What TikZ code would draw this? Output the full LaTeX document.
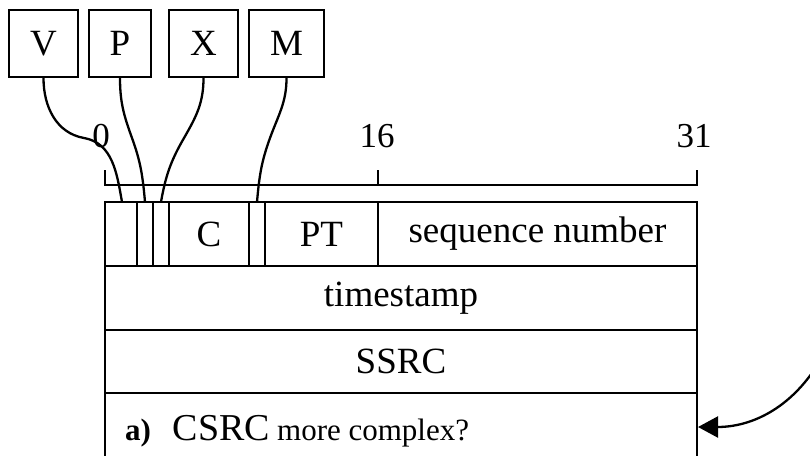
\documentclass[tikz,border=0pt]{standalone}
\usepackage{fontspec}
\setmainfont{Liberation Serif}
\usetikzlibrary{arrows.meta}
\begin{document}
\begin{tikzpicture}[x=1pt,y=-1pt, line width=2.3pt,
  big/.style={font=\fontsize{37}{42}\selectfont},
  flag/.style={draw, big, minimum height=67pt, inner sep=0pt},
  field/.style={draw, big, minimum height=64pt, inner sep=0pt},
  wire/.style={line width=2.3pt},
  scalelbl/.style={font=\fontsize{35}{40}\selectfont, anchor=base, inner sep=0pt}]
\useasboundingbox (0,0) rectangle (810,455);
% flag boxes
\node[flag, minimum width=69pt] (V) at (43.5,43.5) {V};
\node[flag, minimum width=62pt] (P) at (120,43.5) {P};
\node[flag, minimum width=69pt] (X) at (203.5,43.5) {X};
\node[flag, minimum width=75pt] (M) at (286.5,43.5) {M};
% scale
\coordinate (t0) at (105,185);
\coordinate (t16) at (378,185);
\coordinate (t31) at (697,185);
\draw (t0) ++(0,-15) -- (t0) -- (t31) -- ++(0,-15);
\draw (t16) -- ++(0,-15);
\node[scalelbl] (l0) at (101,147) {0};
\node[scalelbl] (l16) at (377,147) {16};
\node[scalelbl] (l31) at (694,147) {31};
% first row
\node[field, minimum width=32pt] (fv) at (121,234) {};
\node[field, minimum width=16pt] (fp) at (145,234) {};
\node[field, minimum width=16pt] (fx) at (161,234) {};
\node[field, minimum width=80pt] (fc) at (209,234) {C};
\node[field, minimum width=16pt] (fm) at (257,234) {};
\node[field, minimum width=113pt] (fpt) at (321.5,234) {PT};
\node[field, minimum width=319pt] (fseq) at (537.5,234) {sequence number};
% other rows
\node[field, minimum width=592pt] (ts) at (401,298) {timestamp};
\node[field, minimum width=592pt, minimum height=63pt] (ssrc) at (401,361.5) {SSRC};
\node[draw, minimum width=592pt, minimum height=80pt, inner sep=0pt] (csrc) at (401,433) {};
\node[anchor=base west, inner sep=0pt] (csrctext) at (124,440)
  {\fontsize{31}{36}\selectfont\bfseries a)\hspace{22pt}\mdseries\fontsize{38}{42}\selectfont CSRC\hspace{7pt}\fontsize{31}{36}\selectfont more complex?};
% wires from flags
\coordinate (vmid) at (84,138);
\coordinate (vend) at (122,202);
\coordinate (pmid) at (132,138);
\coordinate (pend) at (145,202);
\coordinate (xmid) at (184,138);
\coordinate (xend) at (161,202);
\coordinate (mmid) at (270,138);
\coordinate (mend) at (257,202);
\draw[wire] (V.south) to[out=-90,in=170] (vmid) to[out=-10,in=100] (vend);
\draw[wire] (P.south) to[out=-90,in=110] (pmid) to[out=-70,in=95] (pend);
\draw[wire] (X.south) to[out=-90,in=60] (xmid) to[out=-120,in=80] (xend);
\draw[wire] (M.south) to[out=-90,in=70] (mmid) to[out=-110,in=85] (mend);
% arrow
\coordinate (astart) at (818,364);
\coordinate (atip) at (698,427);
\draw[wire, -{Triangle[length=20pt,width=21pt]}] (astart) to[out=-122,in=0] (atip);
\end{tikzpicture}
\end{document}
